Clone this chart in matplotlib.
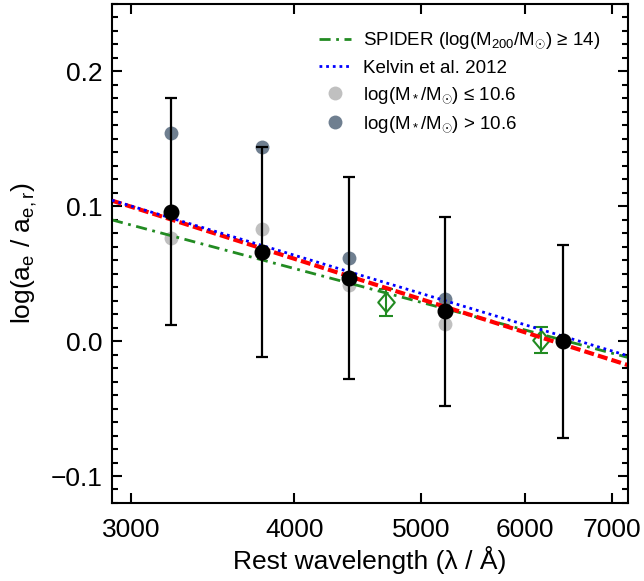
import numpy as np
import matplotlib
matplotlib.use('Agg')
import matplotlib.pyplot as plt
from matplotlib.ticker import FixedLocator, NullLocator, MultipleLocator

plt.rcParams['font.family'] = ['Liberation Sans', 'DejaVu Sans']
plt.rcParams['mathtext.fontset'] = 'custom'
plt.rcParams['mathtext.rm'] = 'Liberation Sans'
plt.rcParams['mathtext.it'] = 'Liberation Sans:italic'

# Mittelwerte (schwarze Punkte) mit Fehlerbalken
wave = [3220, 3776, 4405, 5216, 6426]
ratio = [0.096, 0.066, 0.047, 0.022, 0.000]
ratio_err = [0.084, 0.078, 0.075, 0.070, 0.0715]

# Massen-Teilstichproben
ratio_low = [0.0765, 0.083, 0.042, 0.013, 0.000]
ratio_high = [0.154, 0.144, 0.0615, 0.031, 0.000]

# SPIDER Datenpunkte
spider_wave = [4701, 6177]
spider_ratio = [0.0287, 0.0007]
spider_err = [0.010, 0.0095]

# Geradenanpassungen (Endpunkte bei 2900 und 7200 A)
line_wave = [2900, 7200]
spider_line = [0.0899, -0.0121]
kelvin_line = [0.1045, -0.0109]
fit_line = [0.1042, -0.0178]

green = '#228B22'

fig = plt.figure(figsize=(6.44, 5.81), dpi=100)
ax = fig.add_axes([0.1739, 0.1343, 0.8013, 0.8588])

ax.plot(line_wave, spider_line, color=green, lw=2.0,
        linestyle=(0, (4.0, 2.0, 1.0, 2.0)),
        label=r'SPIDER (log(M$_{\mathregular{200}}$/M$_{\odot}$) ≥ 14)', zorder=2)
ax.plot(line_wave, kelvin_line, color='blue', lw=2.0, linestyle=(0, (1, 1.4)),
        label='Kelvin et al. 2012', zorder=3)
ax.plot(line_wave, fit_line, color='red', lw=3.0, linestyle=(0, (2.4, 1.0)), zorder=2.5)

ax.plot(wave, ratio_low, 'o', color='#c0c0c0', ms=10, mec='none',
        label=r'log(M$_*$/M$_{\odot}$) ≤ 10.6', zorder=1)
ax.plot(wave, ratio_high, 'o', color='#6f7f90', ms=10, mec='none',
        label=r'log(M$_*$/M$_{\odot}$) > 10.6', zorder=1)

diamond = [(0, 1), (0.85, 0), (0, -1), (-0.85, 0), (0, 1)]
ax.errorbar(spider_wave, spider_ratio, yerr=spider_err, fmt='none', ecolor=green,
            elinewidth=1.5, capsize=5, capthick=1.5, zorder=2)
ax.plot(spider_wave, spider_ratio, linestyle='none', marker=diamond, ms=14,
        mfc='none', mec=green, mew=1.5, zorder=2)

ax.errorbar(wave, ratio, yerr=ratio_err, fmt='o', color='black', ms=10.5,
            elinewidth=1.6, capsize=4, capthick=1.6, zorder=4)

ax.set_xscale('log')
ax.set_xlim(2900, 7200)
ax.set_ylim(-0.12, 0.25)
ax.xaxis.set_major_locator(FixedLocator([3000, 4000, 5000, 6000, 7000]))
ax.xaxis.set_minor_locator(NullLocator())
ax.set_xticklabels(['3000', '4000', '5000', '6000', '7000'])
ax.yaxis.set_major_locator(FixedLocator([-0.1, 0.0, 0.1, 0.2]))
ax.yaxis.set_minor_locator(MultipleLocator(0.01))
ax.set_yticklabels(['\u22120.1', '0.0', '0.1', '0.2'])

ax.tick_params(which='both', direction='in', top=True, right=True, width=1.5, labelsize=19)
ax.tick_params(which='major', length=7)
ax.tick_params(which='minor', length=4)
ax.tick_params(axis='x', pad=11)
ax.tick_params(axis='y', pad=7)
for s in ax.spines.values():
    s.set_linewidth(1.5)

ax.set_xlabel('Rest wavelength (λ / Å)', fontsize=19, labelpad=3)
ax.set_ylabel(r'log(a$_{\mathregular{e}}$ / a$_{\mathregular{e,r}}$)', fontsize=19, labelpad=8)

ax.legend(loc='upper right', bbox_to_anchor=(0.96, 0.962), frameon=False, fontsize=13.5,
          handlelength=1.7, handletextpad=0.6, labelspacing=0.45, borderaxespad=0)

fig.savefig('out.png', dpi=100)
